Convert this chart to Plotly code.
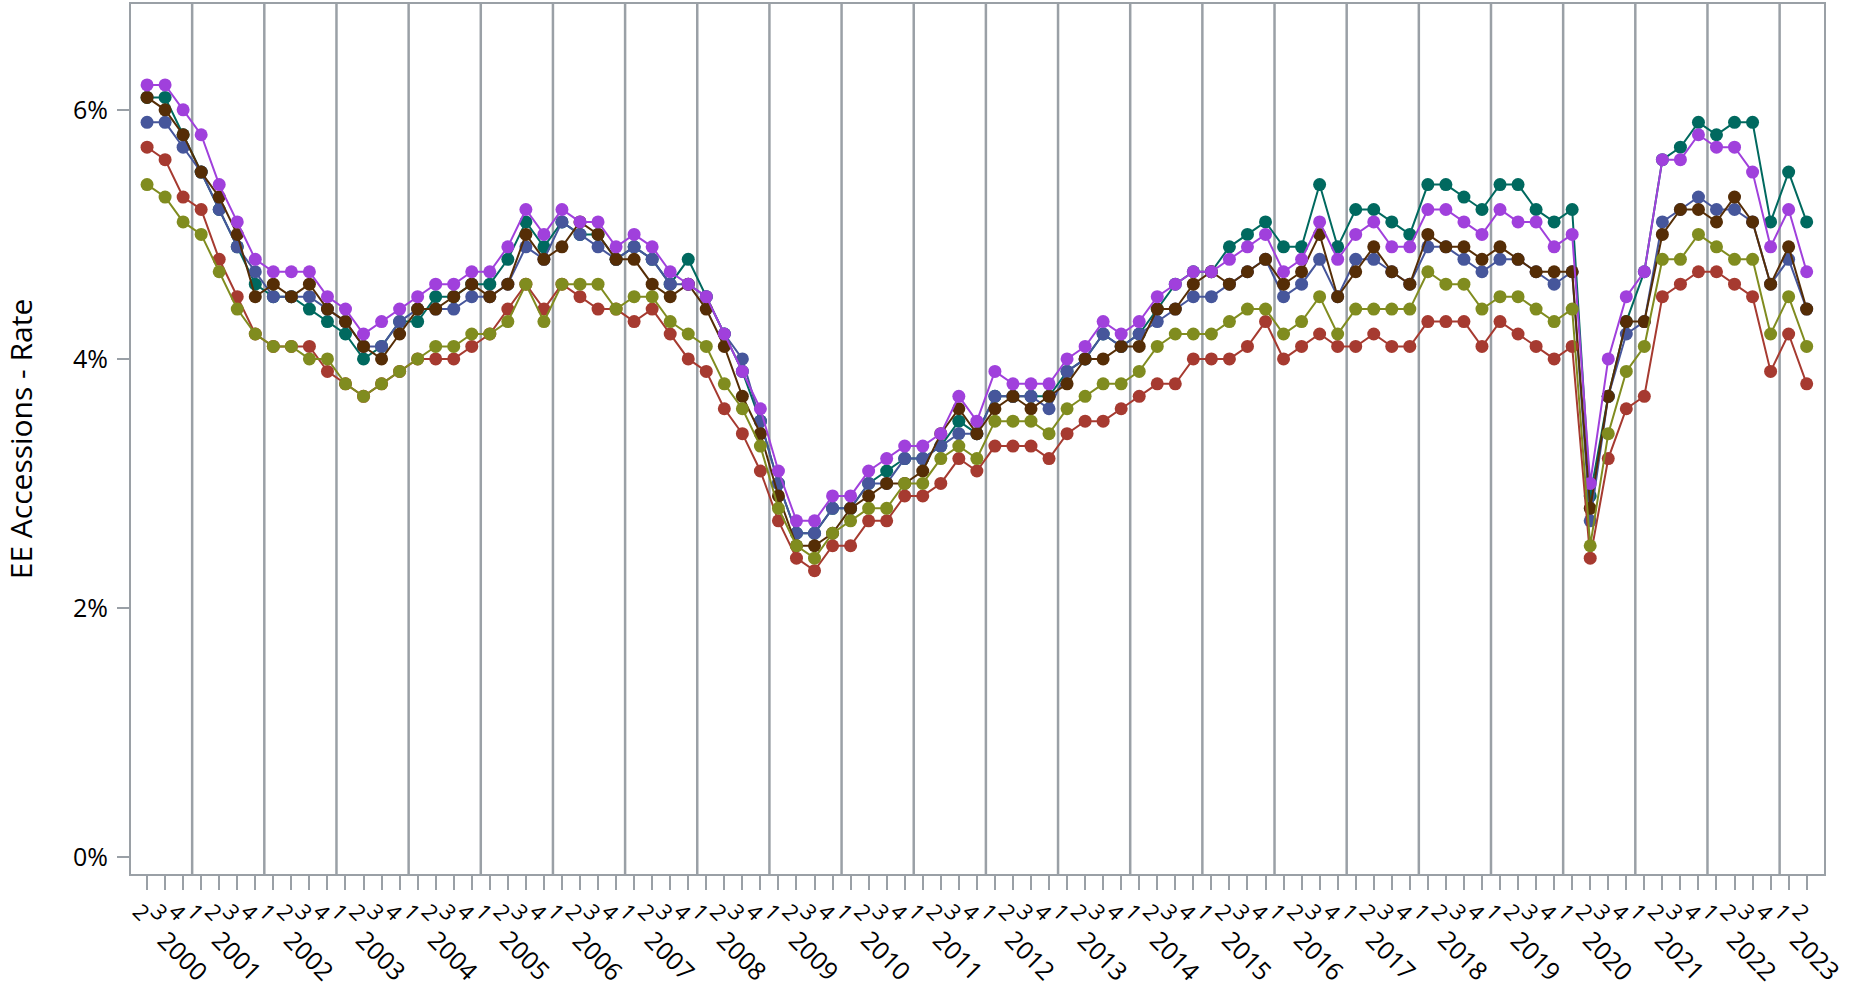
import plotly.graph_objects as go

# ---- categories: quarterly, 2000 Q2 .. 2023 Q2 ----
start_year, start_q = 2000, 2
n_points = 93
years = []
quarters = []
y, q = start_year, start_q
for _ in range(n_points):
    years.append(y)
    quarters.append(q)
    q += 1
    if q > 4:
        q = 1
        y += 1

# ---- series values (percent) ----
purple = [6.2, 6.2, 6.0, 5.8, 5.4, 5.1, 4.8, 4.7, 4.7, 4.7, 4.5, 4.4, 4.2, 4.3,
          4.4, 4.5, 4.6, 4.6, 4.7, 4.7, 4.9, 5.2, 5.0, 5.2, 5.1, 5.1, 4.9, 5.0,
          4.9, 4.7, 4.6, 4.5, 4.2, 3.9, 3.6, 3.1, 2.7, 2.7, 2.9, 2.9, 3.1, 3.2,
          3.3, 3.3, 3.4, 3.7, 3.5, 3.9, 3.8, 3.8, 3.8, 4.0, 4.1, 4.3, 4.2, 4.3,
          4.5, 4.6, 4.7, 4.7, 4.8, 4.9, 5.0, 4.7, 4.8, 5.1, 4.8, 5.0, 5.1,
          4.9, 4.9, 5.2, 5.2, 5.1, 5.0, 5.2, 5.1, 5.1, 4.9, 5.0,
          3.0, 4.0, 4.5, 4.7, 5.6, 5.6, 5.8, 5.7, 5.7, 5.5, 4.9, 5.2, 4.7]
teal = [6.1, 6.1, 5.8, 5.5, 5.2, 4.9, 4.6, 4.5, 4.5, 4.4, 4.3, 4.2, 4.0, 4.1,
        4.3, 4.3, 4.5, 4.5, 4.6, 4.6, 4.8, 5.1, 4.9, 5.1, 5.0, 5.0, 4.8, 4.9,
        4.8, 4.6, 4.8, 4.5, 4.2, 3.9, 3.5, 3.0, 2.6, 2.6, 2.8, 2.8, 3.0, 3.1,
        3.2, 3.2, 3.3, 3.5, 3.4, 3.7, 3.7, 3.7, 3.7, 3.9, 4.0, 4.2, 4.1, 4.2,
        4.4, 4.6, 4.7, 4.7, 4.9, 5.0, 5.1, 4.9, 4.9, 5.4, 4.9, 5.2, 5.2,
        5.1, 5.0, 5.4, 5.4, 5.3, 5.2, 5.4, 5.4, 5.2, 5.1, 5.2,
        2.9, 3.7, 4.3, 4.7, 5.6, 5.7, 5.9, 5.8, 5.9, 5.9, 5.1, 5.5, 5.1]
brown = [6.1, 6.0, 5.8, 5.5, 5.3, 5.0, 4.5, 4.6, 4.5, 4.6, 4.4, 4.3, 4.1, 4.0,
         4.2, 4.4, 4.4, 4.5, 4.6, 4.5, 4.6, 5.0, 4.8, 4.9, 5.1, 5.0, 4.8, 4.8,
         4.6, 4.5, 4.6, 4.4, 4.1, 3.7, 3.4, 2.9, 2.5, 2.5, 2.6, 2.8, 2.9, 3.0,
         3.0, 3.1, 3.4, 3.6, 3.4, 3.6, 3.7, 3.6, 3.7, 3.8, 4.0, 4.0, 4.1, 4.1,
         4.4, 4.4, 4.6, 4.7, 4.6, 4.7, 4.8, 4.6, 4.7, 5.0, 4.5, 4.7, 4.9,
         4.7, 4.6, 5.0, 4.9, 4.9, 4.8, 4.9, 4.8, 4.7, 4.7, 4.7,
         2.8, 3.7, 4.3, 4.3, 5.0, 5.2, 5.2, 5.1, 5.3, 5.1, 4.6, 4.9, 4.4]
blue = [5.9, 5.9, 5.7, 5.5, 5.2, 4.9, 4.7, 4.5, 4.5, 4.5, 4.4, 4.3, 4.1, 4.1,
        4.3, 4.4, 4.4, 4.4, 4.5, 4.5, 4.6, 4.9, 4.8, 5.1, 5.0, 4.9, 4.8, 4.9,
        4.8, 4.6, 4.6, 4.5, 4.2, 4.0, 3.5, 3.0, 2.6, 2.6, 2.8, 2.8, 3.0, 3.0,
        3.2, 3.2, 3.3, 3.4, 3.4, 3.7, 3.7, 3.7, 3.6, 3.9, 4.0, 4.2, 4.1, 4.2,
        4.3, 4.4, 4.5, 4.5, 4.6, 4.7, 4.8, 4.5, 4.6, 4.8, 4.5, 4.8, 4.8,
        4.7, 4.6, 4.9, 4.9, 4.8, 4.7, 4.8, 4.8, 4.7, 4.6, 4.7,
        2.7, 3.7, 4.2, 4.3, 5.1, 5.2, 5.3, 5.2, 5.2, 5.1, 4.6, 4.8, 4.4]
olive = [5.4, 5.3, 5.1, 5.0, 4.7, 4.4, 4.2, 4.1, 4.1, 4.0, 4.0, 3.8, 3.7, 3.8,
         3.9, 4.0, 4.1, 4.1, 4.2, 4.2, 4.3, 4.6, 4.3, 4.6, 4.6, 4.6, 4.4, 4.5,
         4.5, 4.3, 4.2, 4.1, 3.8, 3.6, 3.3, 2.8, 2.5, 2.4, 2.6, 2.7, 2.8, 2.8,
         3.0, 3.0, 3.2, 3.3, 3.2, 3.5, 3.5, 3.5, 3.4, 3.6, 3.7, 3.8, 3.8, 3.9,
         4.1, 4.2, 4.2, 4.2, 4.3, 4.4, 4.4, 4.2, 4.3, 4.5, 4.2, 4.4, 4.4,
         4.4, 4.4, 4.7, 4.6, 4.6, 4.4, 4.5, 4.5, 4.4, 4.3, 4.4,
         2.5, 3.4, 3.9, 4.1, 4.8, 4.8, 5.0, 4.9, 4.8, 4.8, 4.2, 4.5, 4.1]
red = [5.7, 5.6, 5.3, 5.2, 4.8, 4.5, 4.2, 4.1, 4.1, 4.1, 3.9, 3.8, 3.7, 3.8,
       3.9, 4.0, 4.0, 4.0, 4.1, 4.2, 4.4, 4.6, 4.4, 4.6, 4.5, 4.4, 4.4, 4.3,
       4.4, 4.2, 4.0, 3.9, 3.6, 3.4, 3.1, 2.7, 2.4, 2.3, 2.5, 2.5, 2.7, 2.7,
       2.9, 2.9, 3.0, 3.2, 3.1, 3.3, 3.3, 3.3, 3.2, 3.4, 3.5, 3.5, 3.6, 3.7,
       3.8, 3.8, 4.0, 4.0, 4.0, 4.1, 4.3, 4.0, 4.1, 4.2, 4.1, 4.1, 4.2,
       4.1, 4.1, 4.3, 4.3, 4.3, 4.1, 4.3, 4.2, 4.1, 4.0, 4.1,
       2.4, 3.2, 3.6, 3.7, 4.5, 4.6, 4.7, 4.7, 4.6, 4.5, 3.9, 4.2, 3.8]

y_tick_values = [0, 2, 4, 6]
y_title = "EE Accessions - Rate"

# draw order (bottom -> top) and colours
series = [
    ("teal", teal, "#00695f"),
    ("blue", blue, "#46569b"),
    ("brown", brown, "#552d06"),
    ("purple", purple, "#a040dc"),
    ("red", red, "#a63a30"),
    ("olive", olive, "#808c1f"),
]

GRAY = "#9aa0a6"
FONT = "Open Sans"
W, H = 1859, 987
M_L, M_R, M_T, M_B = 131, 35, 2, 113

x_idx = list(range(n_points))
last_idx = n_points - 1

fig = go.Figure()
for name, vals, col in series:
    fig.add_trace(go.Scatter(
        x=x_idx, y=vals, mode="lines+markers", name=name,
        line=dict(color=col, width=2),
        marker=dict(color=col, size=13),
        showlegend=False,
    ))

# year boundaries and year labels
year_first = {}
for i, yr in enumerate(years):
    year_first.setdefault(yr, i)

shapes = []
annotations = []
for yr, i0 in year_first.items():
    if i0 > 0:
        shapes.append(dict(type="line", xref="x", yref="paper",
                           x0=i0 - 0.5, x1=i0 - 0.5, y0=0, y1=1,
                           line=dict(color=GRAY, width=2.5), layer="below"))
    annotations.append(dict(
        x=min(i0 + 2, last_idx + 0.5), xref="x", y=-0.093, yref="paper",
        text=str(yr), showarrow=False, textangle=45,
        xanchor="center", yanchor="middle",
        font=dict(family=FONT, size=25, color="#000000"),
    ))

fig.update_layout(
    width=W, height=H,
    margin=dict(l=M_L, r=M_R, t=M_T, b=M_B),
    paper_bgcolor="white", plot_bgcolor="white",
    font=dict(family=FONT, size=22, color="#000000"),
    shapes=shapes, annotations=annotations,
    xaxis=dict(
        range=[-0.89, last_idx + 0.96],
        tickmode="array", tickvals=x_idx, ticktext=[str(q) for q in quarters],
        tickangle=45, ticks="outside", ticklen=14, tickwidth=2, tickcolor=GRAY,
        tickfont=dict(family=FONT, size=22),
        ticklabelshift=-8,
        showgrid=False, zeroline=False,
        showline=True, linecolor=GRAY, linewidth=2, mirror=True,
    ),
    yaxis=dict(
        range=[-0.136, 6.85],
        tickmode="array", tickvals=y_tick_values,
        ticktext=[f"{v}%" for v in y_tick_values],
        ticks="outside", ticklen=12, tickwidth=2, tickcolor=GRAY,
        tickfont=dict(family=FONT, size=25),
        ticklabelstandoff=4,
        showgrid=False, zeroline=False,
        showline=True, linecolor=GRAY, linewidth=2, mirror=True,
        title=dict(text=y_title, font=dict(family=FONT, size=30), standoff=34),
    ),
)

fig.write_html(
    "out.html",
    config={"displayModeBar": False},
    post_script="document.body.style.margin='0px';document.body.style.padding='0px';document.body.style.overflow='hidden';",
)
